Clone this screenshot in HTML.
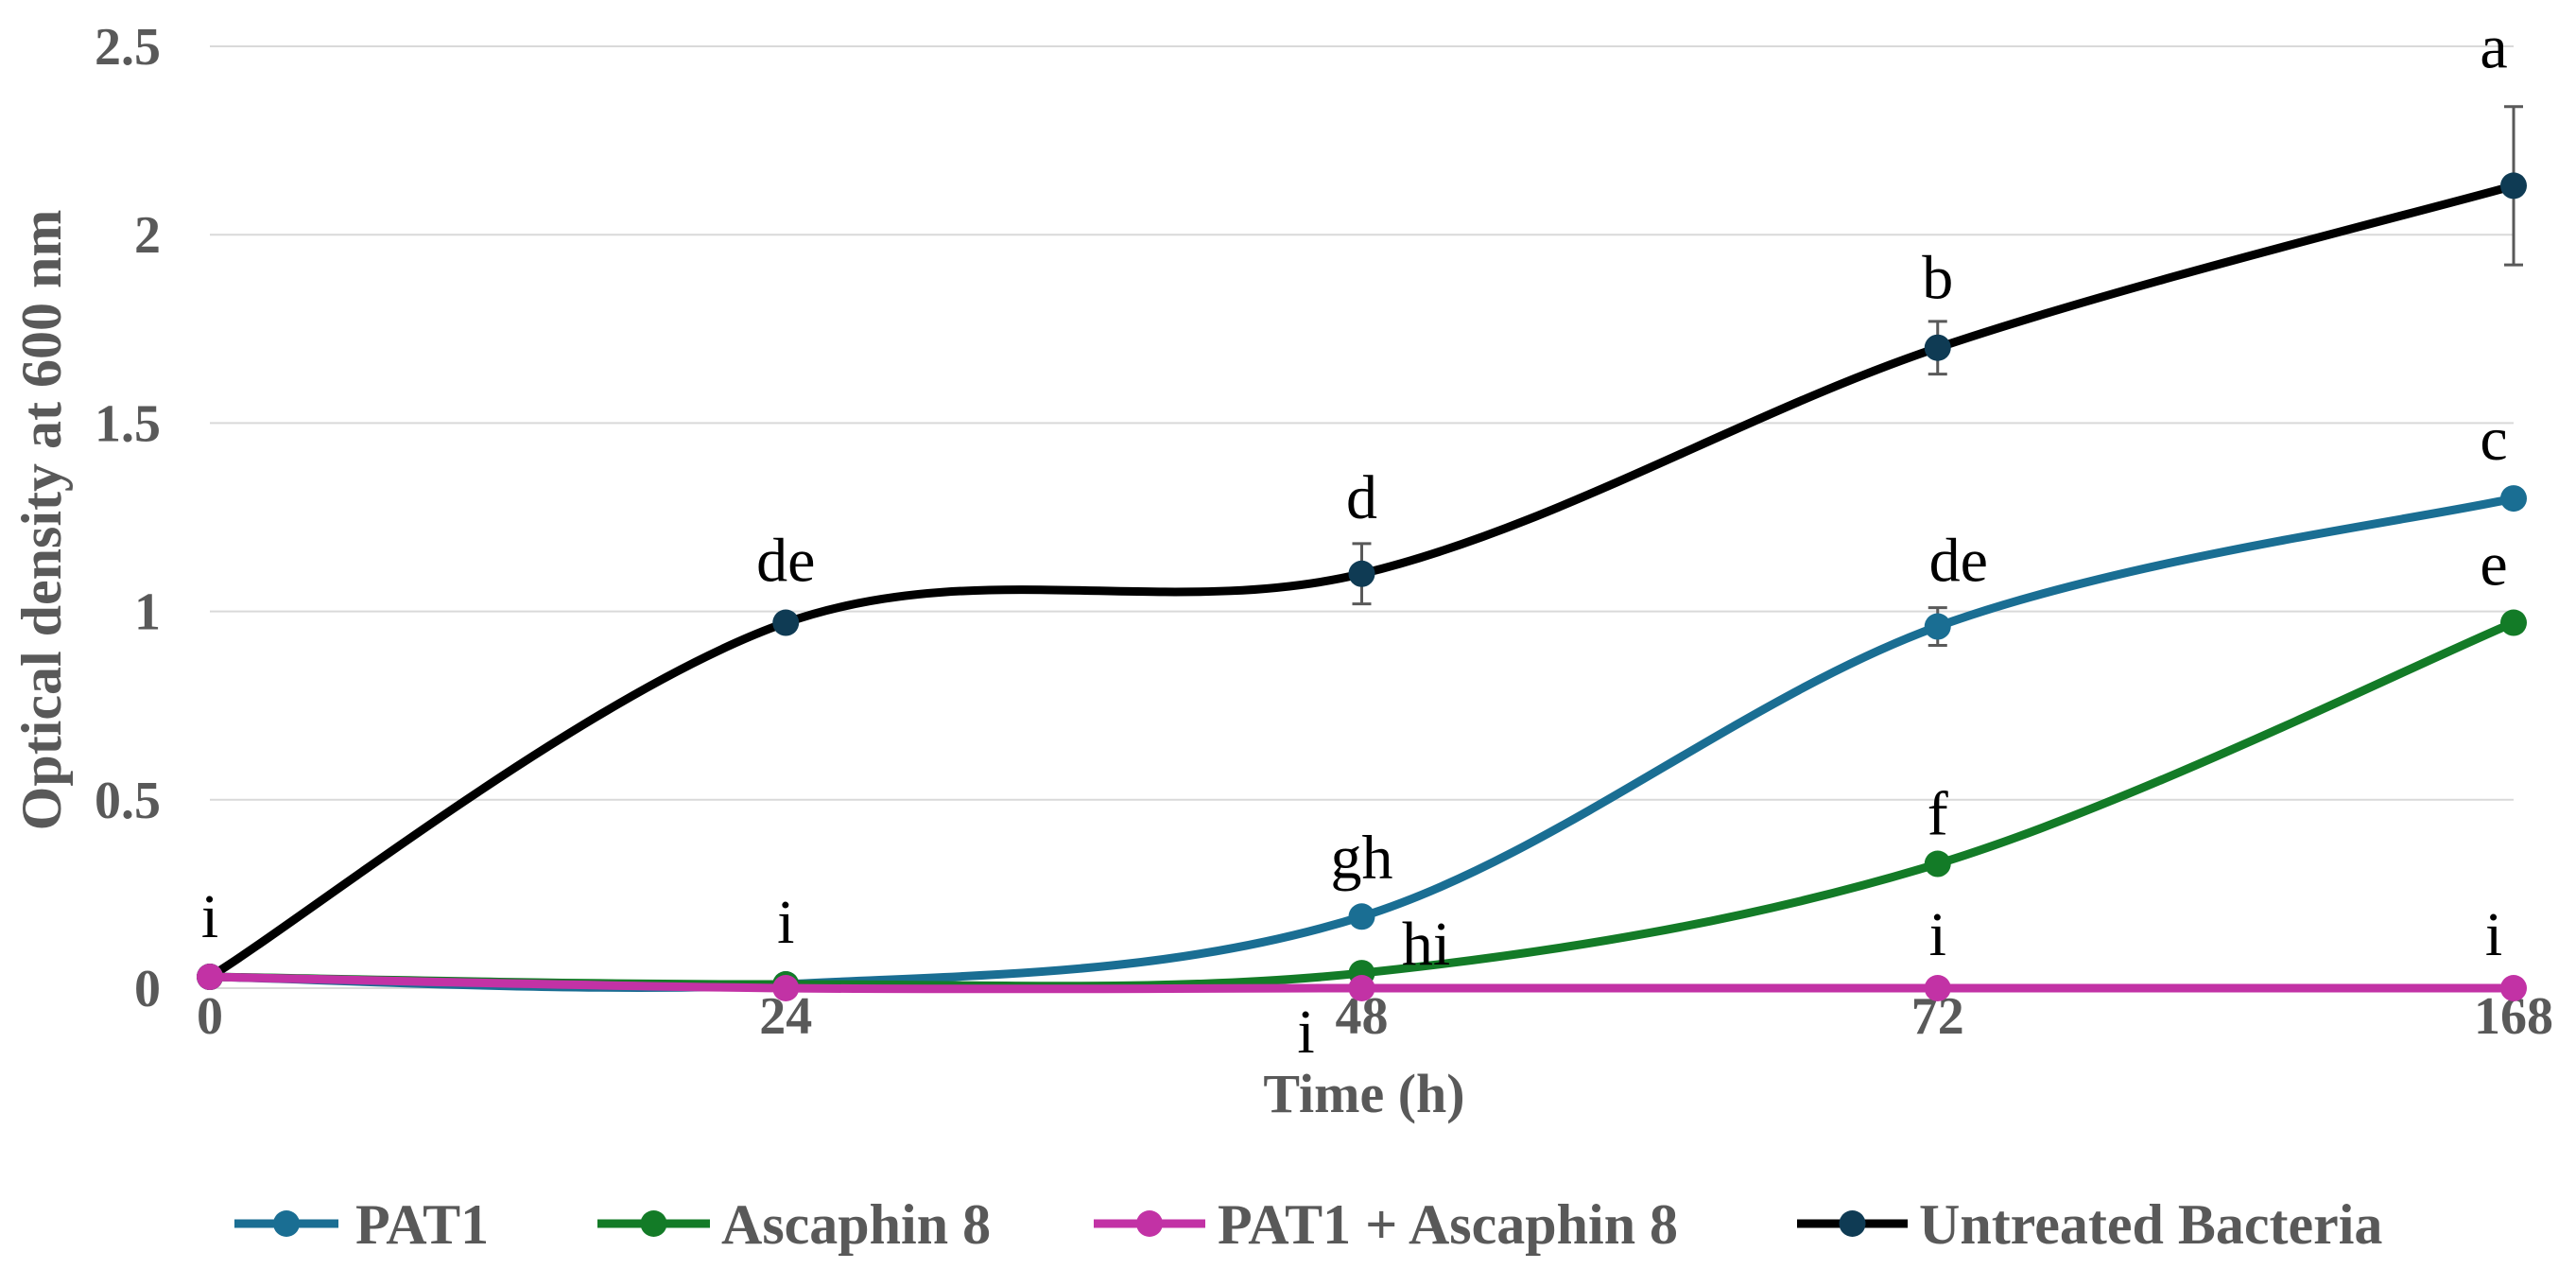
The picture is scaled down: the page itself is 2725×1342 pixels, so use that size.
<!DOCTYPE html>
<html><head><meta charset="utf-8"><style>
html,body{margin:0;padding:0;background:#fff;}
svg{display:block;}
</style></head><body>
<svg id="chart" width="2725" height="1342" viewBox="0 0 2725 1342" xmlns="http://www.w3.org/2000/svg" font-family="'Liberation Serif', serif">
<g id="grid"></g><g id="axes"></g><g id="series"></g><g id="letters"></g><g id="legend"></g>
</svg>
<script>
const categories = ["0","24","48","72","168"];
const yTicks = [0,0.5,1,1.5,2,2.5];
const yTickLabels = ["0","0.5","1","1.5","2","2.5"];
const pat1 = [0.03,0.01,0.19,0.96,1.30];
const pat1Err = [0,0,0,0.05,0];
const asc = [0.03,0.01,0.04,0.33,0.97];
const ascErr = [0,0,0,0,0];
const combo = [0.03,0,0,0,0];
const comboErr = [0,0,0,0,0];
const untreated = [0.03,0.97,1.10,1.70,2.13];
const untreatedErr = [0,0.01,0.08,0.07,0.21];
const untreatedLetters = ["i","de","d","b","a"];
const pat1Letters = ["","","gh","de","c"];
const ascLetters = ["","","hi","f","e"];
const comboLetters = ["","i","i","i","i"];

const NS="http://www.w3.org/2000/svg";
const X0=222, X1=2659, Y0=1045, Ytop=49, YMAX=2.5;
function xs(i){return X0+(X1-X0)*i/(categories.length-1);}
function ys(v){return Y0-(Y0-Ytop)*v/YMAX;}
function mk(tag,attrs,parent){const e=document.createElementNS(NS,tag);for(const k in attrs)e.setAttribute(k,attrs[k]);parent.appendChild(e);return e;}
const grid=document.getElementById('grid'),axes=document.getElementById('axes'),ser=document.getElementById('series'),let_=document.getElementById('letters'),leg=document.getElementById('legend');

yTicks.forEach((t,i)=>{
  if(t>0){const g=mk('line',{x1:X0,x2:X1,y1:ys(t),y2:ys(t),stroke:'#d9d9d9','stroke-width':2},grid);
  
  }
  const tx=mk('text',{x:170,y:ys(t)+19,'text-anchor':'end','font-size':56,'font-weight':'bold',fill:'#595959'},axes);
  tx.textContent=yTickLabels[i];
  
  
});
const base=mk('line',{x1:X0,x2:X1,y1:Y0,y2:Y0,stroke:'#d9d9d9','stroke-width':2},axes);


categories.forEach((c,i)=>{
  const tx=mk('text',{x:xs(i),y:1093,'text-anchor':'middle','font-size':56,'font-weight':'bold',fill:'#595959'},axes);
  tx.textContent=c;
  
  
});
const xt=mk('text',{x:1443,y:1176,'text-anchor':'middle','font-size':58,'font-weight':'bold',fill:'#595959'},axes);
xt.textContent='Time (h)';


const yt=mk('text',{x:0,y:0,'text-anchor':'middle','font-size':60,'font-weight':'bold',fill:'#595959',transform:'translate(64,550) rotate(-90)'},axes);
yt.textContent='Optical density at 600 nm';



function smoothPath(vals){
  const p=vals.map((v,i)=>[xs(i),ys(v)]);
  let d='M'+p[0][0]+','+p[0][1];
  for(let i=0;i<p.length-1;i++){
    const p0=p[i-1]||p[i],p1=p[i],p2=p[i+1],p3=p[i+2]||p[i+1];
    const t=1/6;
    const c1=[p1[0]+(p2[0]-p0[0])*t,p1[1]+(p2[1]-p0[1])*t];
    const c2=[p2[0]-(p3[0]-p1[0])*t,p2[1]-(p3[1]-p1[1])*t];
    d+=' C'+c1+' '+c2+' '+p2;
  }
  return d;
}
const seriesDefs=[
 {name:'untreated',vals:untreated,err:untreatedErr,line:'#000000',mark:'#0f3b54'},
 {name:'pat1',vals:pat1,err:pat1Err,line:'#1a6e93',mark:'#1a6e93'},
 {name:'ascaphin',vals:asc,err:ascErr,line:'#137b27',mark:'#137b27'},
 {name:'combo',vals:combo,err:comboErr,line:'#c232a5',mark:'#c232a5'}
];
seriesDefs.forEach(s=>{
  const g=mk('g',{},ser);
  
  
  const path=mk('path',{d:smoothPath(s.vals),fill:'none',stroke:s.line,'stroke-width':9,'stroke-linecap':'round'},g);
  
  
  s.vals.forEach((v,i)=>{
    if(s.err[i]>0){
      const e=mk('path',{d:`M${xs(i)-10},${ys(v+s.err[i])}H${xs(i)+10}M${xs(i)},${ys(v+s.err[i])}V${ys(v-s.err[i])}M${xs(i)-10},${ys(v-s.err[i])}H${xs(i)+10}`,stroke:'#595959','stroke-width':3,fill:'none'},g);
      
      
    }
    const c=mk('circle',{cx:xs(i),cy:ys(v),r:14,fill:s.mark},g);
    
    
  });
});
function letter(txt,x,y){
  if(!txt)return;
  const t=mk('text',{x:x,y:y,'text-anchor':'middle','font-size':66,fill:'#000'},let_);
  t.textContent=txt;
  
  
}
const uDx=[0,0,0,0,-21], uDy=[-42,-44,-59,-52,-125];
const pDx=[0,0,0,22,-21], pDy=[0,0,-41,-48,-41];
const aDx=[0,0,68,0,-21], aDy=[0,0,-9,-31,-40];
const cDx=[0,0,-59,0,-21], cDy=[0,-48,68,-35,-35];
untreatedLetters.forEach((l,i)=>letter(l,xs(i)+uDx[i],ys(untreated[i])+uDy[i]));
pat1Letters.forEach((l,i)=>letter(l,xs(i)+pDx[i],ys(pat1[i])+pDy[i]));
ascLetters.forEach((l,i)=>letter(l,xs(i)+aDx[i],ys(asc[i])+aDy[i]));
comboLetters.forEach((l,i)=>letter(l,xs(i)+cDx[i],ys(combo[i])+cDy[i]));

const legItems=[
 {n:'PAT1',c:'#1a6e93',m:'#1a6e93',x1:248,x2:358,tx:376},
 {n:'Ascaphin 8',c:'#137b27',m:'#137b27',x1:632,x2:751,tx:763},
 {n:'PAT1 + Ascaphin 8',c:'#c232a5',m:'#c232a5',x1:1157,x2:1275,tx:1288},
 {n:'Untreated Bacteria',c:'#000',m:'#0f3b54',x1:1901,x2:2018,tx:2030}
];
legItems.forEach(it=>{
  const g=mk('g',{},leg);
  
  
  mk('line',{x1:it.x1,x2:it.x2,y1:1294,y2:1294,stroke:it.c,'stroke-width':9},g);
  mk('circle',{cx:(it.x1+it.x2)/2,cy:1294,r:14,fill:it.m},g);
  const t=mk('text',{x:it.tx,y:1315,'font-size':60,'font-weight':'bold',fill:'#595959'},g);
  t.textContent=it.n;
});
</script>
</body></html>
